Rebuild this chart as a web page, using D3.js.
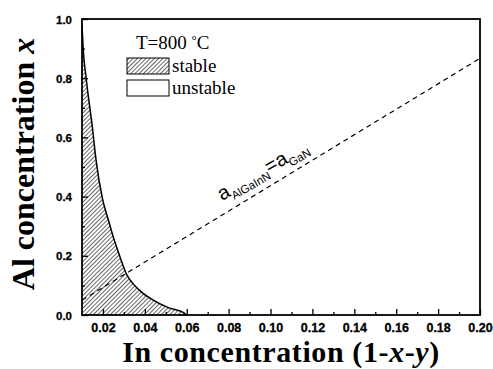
<!DOCTYPE html>
<html><head><meta charset="utf-8">
<script src="https://cdn.jsdelivr.net/npm/d3@7"></script>
<style>body{margin:0;background:#fff}svg{display:block}</style>
</head><body>
<script>
// Data
const xTicks = [0.02,0.04,0.06,0.08,0.10,0.12,0.14,0.16,0.18,0.20];
const yTicks = [0.0,0.2,0.4,0.6,0.8,1.0];
const stableX = [0.0100,0.0106,0.0119,0.0151,0.0167,0.0199,0.0226,0.0254,0.0270,0.0310,0.0374,0.0438,0.0515,0.0587,0.0597];
const stableY = [0.98,0.895,0.805,0.625,0.524,0.389,0.321,0.253,0.220,0.142,0.084,0.051,0.024,0.007,0.0];
const latticeX = [0.01,0.20];
const latticeY = [0.05,0.867];
const legendLabels = ["stable","unstable"];

const W=493,H=369;
const m={l:82,r:480,t:19,b:315};
const svg=d3.select("body").append("svg").attr("width",W).attr("height",H);
const x=d3.scaleLinear().domain([0.01,0.20]).range([m.l,m.r]);
const y=d3.scaleLinear().domain([0,1]).range([m.b,m.t]);

const defs=svg.append("defs");
const pat=defs.append("pattern").attr("id","hatch").attr("patternUnits","userSpaceOnUse")
  .attr("width",3).attr("height",3).attr("patternTransform","rotate(45)");
pat.append("rect").attr("width",3).attr("height",3).attr("fill","#fff");
pat.append("line").attr("x1",0).attr("y1",0).attr("x2",0).attr("y2",3).attr("stroke","#000").attr("stroke-width",1.2);

// stable region
const poly=[[0.01,0]].concat(stableX.map((d,i)=>[d,stableY[i]])).concat([[0.0597,0]]);
svg.append("path").attr("d",d3.line().x(d=>x(d[0])).y(d=>y(d[1]))(poly)+"Z")
  .attr("fill","url(#hatch)").attr("stroke","none");
svg.append("path").attr("d",d3.line().x(d=>x(d[0])).y(d=>y(d[1])).curve(d3.curveMonotoneX)(stableX.map((d,i)=>[d,stableY[i]])))
  .attr("fill","none").attr("stroke","#000").attr("stroke-width",1.5);

// dashed line
svg.append("path").attr("d",d3.line().x(d=>x(d[0])).y(d=>y(d[1]))(latticeX.map((d,i)=>[d,latticeY[i]])))
  .attr("fill","none").attr("stroke","#000").attr("stroke-width",1.2).attr("stroke-dasharray","5,4");

// axes
const sans="'Liberation Sans', Arial, sans-serif";
const gx=svg.append("g").attr("transform",`translate(0,${m.b})`)
  .call(d3.axisBottom(x).tickValues(xTicks).tickFormat(d3.format(".2f")).tickSizeInner(-6).tickSizeOuter(0).tickPadding(8));
const gxm=svg.append("g").attr("transform",`translate(0,${m.b})`)
  .call(d3.axisBottom(x).tickValues(d3.range(0.03,0.2,0.02)).tickFormat("").tickSizeInner(-3).tickSizeOuter(0));
const gy=svg.append("g").attr("transform",`translate(${m.l},0)`)
  .call(d3.axisLeft(y).tickValues(yTicks).tickFormat(d3.format(".1f")).tickSizeInner(-6).tickSizeOuter(0).tickPadding(10));
const gym=svg.append("g").attr("transform",`translate(${m.l},0)`)
  .call(d3.axisLeft(y).tickValues([0.1,0.3,0.5,0.7,0.9]).tickFormat("").tickSizeInner(-3).tickSizeOuter(0));
[gx,gxm,gy,gym].forEach(g=>{g.select(".domain").remove();g.selectAll("line").attr("stroke","#000").attr("stroke-width",1.3);});
gx.selectAll("text").style("font-family",sans).style("font-weight","bold").style("font-size","12.5px").attr("fill","#000").attr("stroke","#000").attr("stroke-width",0.3).attr("dy","0.71em");
gy.selectAll("text").style("font-family",sans).style("font-weight","bold").style("font-size","11.5px").attr("fill","#000").attr("stroke","#000").attr("stroke-width",0.3).attr("dy","0.35em");

svg.append("rect").attr("x",m.l).attr("y",m.t).attr("width",m.r-m.l).attr("height",m.b-m.t)
  .attr("fill","none").attr("stroke","#000").attr("stroke-width",1.8);

// legend
const serif="'Liberation Serif', 'Times New Roman', serif";
const lt=svg.append("text").attr("x",136).attr("y",49).style("font-family",serif).style("font-size","19px");
lt.append("tspan").text("T=800 ");
lt.append("tspan").text("°").attr("dy",-5).style("font-size","13px");
lt.append("tspan").text("C").attr("dy",5);
legendLabels.forEach((lab,i)=>{
  const yy=58+i*22;
  svg.append("rect").attr("x",127).attr("y",yy).attr("width",42).attr("height",16)
    .attr("fill",i===0?"url(#hatch)":"#fff").attr("stroke","#000").attr("stroke-width",1);
  svg.append("text").attr("x",172).attr("y",yy+14).style("font-family",serif).style("font-size","19px").text(lab);
});

// line label
const lab=svg.append("text").attr("transform","translate(222,201) rotate(-30)")
  .style("font-family",sans).style("font-size","20px");
lab.append("tspan").text("a");
lab.append("tspan").text("AlGaInN").style("font-size","11.5px").attr("dy",5);
lab.append("tspan").text("=a").attr("dy",-5);
lab.append("tspan").text("GaN").style("font-size","11.5px").attr("dy",5);

// axis titles
const xt=svg.append("text").attr("x",(m.l+m.r)/2).attr("y",362).attr("text-anchor","middle")
  .style("font-family",serif).style("font-weight","bold").style("font-size","30px").style("letter-spacing","0.6px");
xt.append("tspan").text("In concentration (1-");
xt.append("tspan").text("x").style("font-style","italic");
xt.append("tspan").text("-");
xt.append("tspan").text("y").style("font-style","italic");
xt.append("tspan").text(")");
const yt=svg.append("text").attr("transform","translate(34,164) rotate(-90)").attr("text-anchor","middle")
  .style("font-family",serif).style("font-weight","bold").style("font-size","32px");
yt.append("tspan").text("Al concentration ");
yt.append("tspan").text("x").style("font-style","italic");
</script>
</body></html>
